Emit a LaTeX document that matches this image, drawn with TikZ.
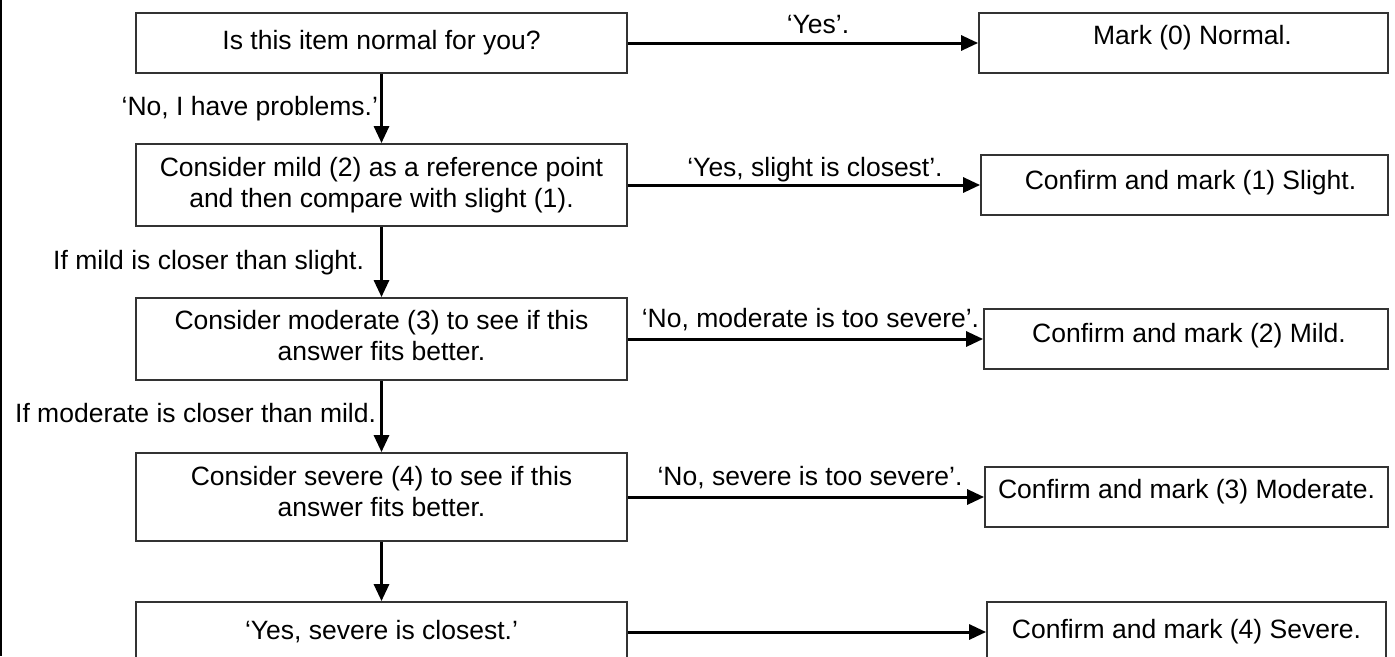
\documentclass[tikz,border=0pt]{standalone}
\usepackage{fontspec}
\setmainfont{Liberation Sans}
\usetikzlibrary{arrows.meta}
\newcommand{\liftup}[2]{\raisebox{#1}[\height][\depth]{#2}}
\begin{document}
\begin{tikzpicture}[x=1pt,y=-1pt,
  txt/.style={font=\fontsize{26.5}{31}\selectfont},
  lbox/.style={txt, draw=black!80, line width=1.8pt, inner sep=0pt, align=center, minimum width=491pt},
  rbox/.style={txt, draw=black!80, line width=1.8pt, inner sep=0pt, align=center, minimum height=60pt},
  arr/.style={line width=3pt, -{Triangle[length=17pt,width=15pt]}},
  lab/.style={txt, inner sep=0pt}]
\useasboundingbox (0,0) rectangle (1395,656);
\fill[white] (0,0) rectangle (1395,656);
\draw[line width=2pt] (1,0) -- (1,656);

% left column
\node[lbox, minimum height=60pt] (B1) at (381.5,43) {Is this item normal for you?};
\node[lbox, minimum height=82pt] (B2) at (381.5,185) {Consider mild (2) as a reference point\\and then compare with slight (1).};
\node[lbox, minimum height=82pt] (B3) at (381.5,339) {\liftup{3pt}{Consider moderate (3) to see if this}\\\liftup{3pt}{answer fits better.}};
\node[lbox, minimum height=88pt] (B4) at (381.5,497) {\liftup{5pt}{Consider severe (4) to see if this}\\\liftup{5pt}{answer fits better.}};
\node[lbox, minimum height=60pt] (B5) at (381.5,632) {‘Yes, severe is closest.’};

% right column
\node[rbox, minimum width=409pt] (R1) at (1183.5,43) {\liftup{5pt}{\hspace*{18pt}Mark (0) Normal.}};
\node[rbox, minimum width=407pt] (R2) at (1184.5,185) {\liftup{2pt}{\hspace*{12pt}Confirm and mark (1) Slight.}};
\node[rbox, minimum width=404pt] (R3) at (1186,339) {\liftup{3pt}{\hspace*{6pt}Confirm and mark (2) Mild.}};
\node[rbox, minimum width=403pt] (R4) at (1186.5,497) {\liftup{5pt}{Confirm and mark (3) Moderate.}};
\node[rbox, minimum width=399pt] (R5) at (1186.5,632) {Confirm and mark (4) Severe.};

% vertical connectors
\draw[arr] (B1.south) -- (B2.north)
  node[lab, pos=0.6, anchor=base east, xshift=-2pt] {‘No, I have problems.’};
\draw[arr] (B2.south) -- (B3.north)
  node[lab, pos=0.6, anchor=base east, xshift=-16pt] {If mild is closer than slight.};
\draw[arr] (B3.south) -- (B4.north)
  node[lab, pos=0.59, anchor=base east, xshift=-4pt] {If moderate is closer than mild.};
\draw[arr] (B4.south) -- (B5.north);

% horizontal connectors
\draw[arr] (B1.east) -- (R1.west)
  node[lab, midway, anchor=base, yshift=10pt, xshift=15pt] {‘Yes’.};
\draw[arr] (B2.east) -- (R2.west)
  node[lab, midway, anchor=base, yshift=9pt, xshift=11pt] {‘Yes, slight is closest’.};
\draw[arr] (B3.east) -- (R3.west)
  node[lab, midway, anchor=base, yshift=12pt, xshift=5pt] {‘No, moderate is too severe’.};
\draw[arr] (B4.east) -- (R4.west)
  node[lab, midway, anchor=base, yshift=12pt, xshift=4pt] {‘No, severe is too severe’.};
\draw[arr] (B5.east) -- (R5.west);
\end{tikzpicture}
\end{document}
